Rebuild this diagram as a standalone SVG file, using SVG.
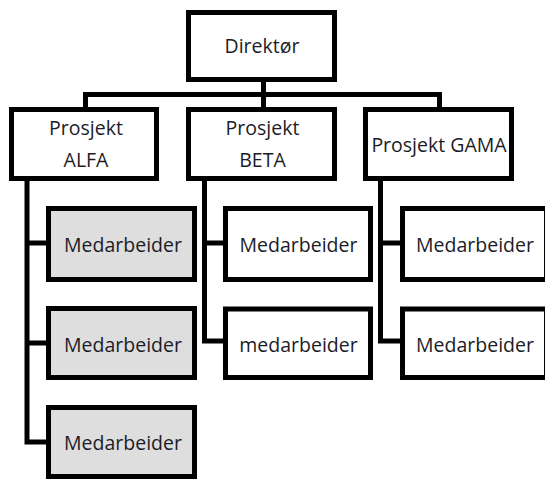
<svg xmlns="http://www.w3.org/2000/svg" width="545" height="480" viewBox="0 0 545 480">
  <style>
    .box { fill: #ffffff; stroke: #000000; stroke-width: 5; }
    .box.shaded { fill: #dedede; }
    .wire { fill: none; stroke: #000000; stroke-width: 5; stroke-linejoin: miter; }
    text { font-family: "Open Sans", "Liberation Sans", sans-serif; font-size: 19.5px; fill: #1c1c28; text-anchor: middle; }
  </style>
  <rect width="545" height="480" fill="#ffffff"/>

  <!-- connectors -->
  <g id="connectors">
    <path class="wire" d="M263.5,80 V109.5"/>
    <path class="wire" d="M85.5,109.5 V94.5 H439.5 V109.5"/>
    <path class="wire" d="M27,178 V442 H48.5 M27,243 H48.5 M27,343 H48.5"/>
    <path class="wire" d="M204.5,178 V341 H225.5 M204.5,243 H225.5"/>
    <path class="wire" d="M380.5,178 V341 H402.5 M380.5,243 H402.5"/>
  </g>

  <!-- top level -->
  <g id="direktor">
    <rect class="box" x="188.5" y="12.5" width="146" height="67"/>
    <text x="262" y="53">Direktør</text>
  </g>

  <!-- project level -->
  <g id="prosjekt-alfa">
    <rect class="box" x="11.5" y="109.5" width="145" height="69"/>
    <text x="86" y="135">Prosjekt</text>
    <text x="86" y="167">ALFA</text>
  </g>
  <g id="prosjekt-beta">
    <rect class="box" x="188.5" y="109.5" width="146" height="69"/>
    <text x="262.5" y="135">Prosjekt</text>
    <text x="262.5" y="167">BETA</text>
  </g>
  <g id="prosjekt-gama">
    <rect class="box" x="365.5" y="109.5" width="146" height="69"/>
    <text x="439" y="151.5">Prosjekt GAMA</text>
  </g>

  <!-- ALFA staff -->
  <g id="alfa-medarbeider-1">
    <rect class="box shaded" x="48.5" y="208.5" width="146" height="71"/>
    <text x="123" y="251.5">Medarbeider</text>
  </g>
  <g id="alfa-medarbeider-2">
    <rect class="box shaded" x="48.5" y="308.5" width="146" height="69"/>
    <text x="123" y="351.5">Medarbeider</text>
  </g>
  <g id="alfa-medarbeider-3">
    <rect class="box shaded" x="48.5" y="407.5" width="146" height="69"/>
    <text x="123" y="450">Medarbeider</text>
  </g>

  <!-- BETA staff -->
  <g id="beta-medarbeider-1">
    <rect class="box" x="225.5" y="208.5" width="145" height="71"/>
    <text x="298.5" y="251.5">Medarbeider</text>
  </g>
  <g id="beta-medarbeider-2">
    <rect class="box" x="225.5" y="309" width="145" height="68.5"/>
    <text x="298.5" y="351.5">medarbeider</text>
  </g>

  <!-- GAMA staff -->
  <g id="gama-medarbeider-1">
    <rect class="box" x="402.5" y="208.5" width="144" height="71"/>
    <text x="475" y="251.5">Medarbeider</text>
  </g>
  <g id="gama-medarbeider-2">
    <rect class="box" x="402.5" y="309" width="144" height="68.5"/>
    <text x="475" y="351.5">Medarbeider</text>
  </g>
</svg>
